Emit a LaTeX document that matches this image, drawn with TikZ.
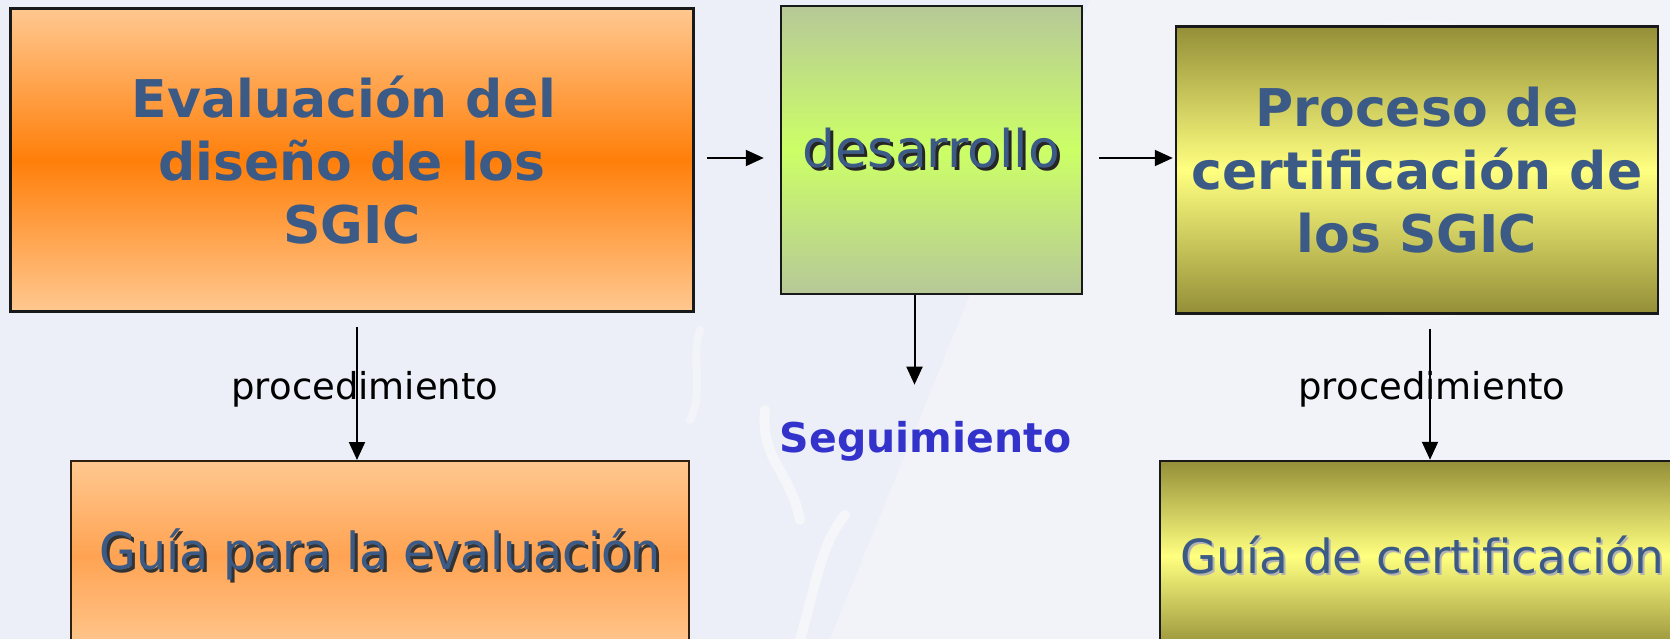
\documentclass[tikz,border=0pt]{standalone}
\usepackage{fontspec}
\setmainfont{DejaVu Sans}
\usetikzlibrary{arrows.meta}
\definecolor{bg}{HTML}{ECEFF7}
\definecolor{txtblue}{HTML}{3B5A85}
\definecolor{segblue}{HTML}{3333CC}
\definecolor{peach}{HTML}{FFC890}
\definecolor{orangeM}{HTML}{FF7F0A}
\definecolor{orangeL}{HTML}{FFA352}
\definecolor{greenT}{HTML}{B6C898}
\definecolor{greenM}{HTML}{CCFF66}
\definecolor{olive}{HTML}{948F38}
\definecolor{yellowM}{HTML}{FFFF80}
\newcommand\shadowtxt[3]{\leavevmode\rlap{\hspace{#2}\raisebox{-#2}{\textcolor{#1}{#3}}}#3}
\tikzset{
  box/.style={draw=black!90, line width=2.5pt, rectangle, inner sep=0pt, align=center},
  bigbold/.style={font=\fontsize{52}{63}\selectfont\bfseries, text=txtblue},
  arr/.style={line width=2pt, -{Triangle[length=18pt,width=16pt]}},
  lab/.style={font=\fontsize{37}{40}\selectfont, text=black, inner sep=0pt, anchor=base}
}
\begin{document}
\begin{tikzpicture}[x=1pt,y=-1pt]
\fill[bg] (0,0) rectangle (1670,639);
\useasboundingbox (0,0) rectangle (1670,639);
% faint background map
\fill[white, opacity=0.3] (1090,0) -- (1670,0) -- (1670,639) -- (830,639) -- cycle;
\fill[white, opacity=0.25] (1420,170) circle (150);
\draw[white, opacity=0.45, line width=10pt, line cap=round] (765,410) .. controls (760,460) and (790,470) .. (800,520);
\draw[white, opacity=0.45, line width=10pt, line cap=round] (845,515) .. controls (820,545) and (815,590) .. (800,639);
\draw[white, opacity=0.35, line width=8pt, line cap=round] (700,330) .. controls (690,360) and (705,390) .. (690,420);

% boxes
\node[box, minimum width=683pt, minimum height=303pt, top color=peach, bottom color=peach, middle color=orangeM, bigbold]
  (eval) at (352,160) {Evaluación del\hspace*{16pt}\\diseño de los\hspace*{32pt}\\SGIC};
\node[box, minimum width=301pt, minimum height=288pt, top color=greenT, bottom color=greenT, middle color=greenM,
  font=\fontsize{52}{60}\selectfont, text=txtblue]
  (desa) at (931.5,150) {\shadowtxt{black!85}{3pt}{desarrollo}};
\node[box, minimum width=482pt, minimum height=287pt, top color=olive, bottom color=olive, middle color=yellowM, bigbold]
  (proc) at (1417,170) {Proceso de\\certificación de\\los SGIC};
\node[box, draw=black!75!brown, line width=2pt, minimum width=618pt, minimum height=190pt, top color=peach, bottom color=peach, middle color=orangeL,
  font=\fontsize{51}{56}\selectfont, text=txtblue]
  (guiaev) at (380,556) {\scalebox{0.93}[1]{\shadowtxt{black!80}{3pt}{Guía para la evaluación}}};
\node[box, minimum width=524pt, minimum height=190pt, top color=olive, bottom color=olive, middle color=yellowM,
  font=\fontsize{47}{52}\selectfont, text=txtblue]
  (guiace) at (1422,556) {\shadowtxt{black!30}{2pt}{Guía de certificación}};

% texts
\node[font=\fontsize{41}{44}\selectfont\bfseries, text=segblue, inner sep=0pt, anchor=base] (seg) at (925.5,452) {Seguimiento};
\node[lab] (lab1) at (365,399) {procedimiento};
\node[lab] (lab2) at (1432,399) {procedimiento};

% connectors
\coordinate (a1) at ([yshift=2pt]eval.east);
\coordinate (a2) at (a1 -| desa.west);
\draw[arr, shorten <=12pt, shorten >=16pt] (a1) -- (a2);
\coordinate (b1) at ([yshift=-8pt]desa.east);
\coordinate (b2) at (b1 -| proc.west);
\draw[arr, shorten <=16pt, shorten >=2pt] (b1) -- (b2);
\coordinate (c1) at ([xshift=5pt]eval.south);
\coordinate (c2) at (c1 |- guiaev.north);
\draw[arr, shorten <=14pt] (c1) -- (c2);
\coordinate (d1) at ([xshift=-17pt]desa.south);
\coordinate (d2) at (d1 |- seg.north);
\draw[arr, shorten >=36pt] (d1) -- (d2);
\coordinate (e1) at ([xshift=13pt]proc.south);
\coordinate (e2) at (e1 |- guiace.north);
\draw[arr, shorten <=14pt] (e1) -- (e2);
\end{tikzpicture}
\end{document}
